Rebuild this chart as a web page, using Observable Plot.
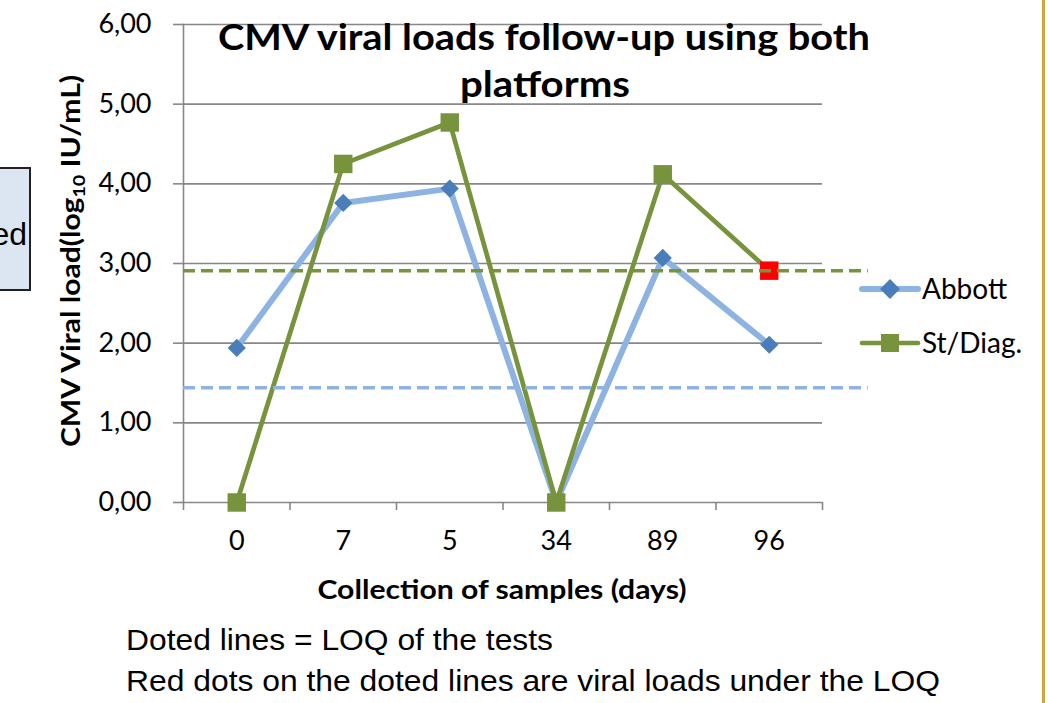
<!DOCTYPE html>
<html>
<head>
<meta charset="utf-8">
<script src="https://cdn.jsdelivr.net/npm/d3@7"></script>
<script src="https://cdn.jsdelivr.net/npm/@observablehq/plot@0.6"></script>
<style>
  html, body { margin: 0; padding: 0; background: white; }
  #wrap { position: relative; width: 1048px; height: 703px; overflow: hidden; }
  #wrap > svg { position: absolute; left: 0; top: 0; }
</style>
</head>
<body>
<div id="wrap"></div>
<script>
// ---- data ----
const categories = ["0", "7", "5", "34", "89", "96"];
const abbott = [1.94, 3.76, 3.94, 0, 3.07, 1.98];
const stDiag = [0, 4.25, 4.77, 0, 4.12, 2.91];
const stDiagUnderLoq = [false, false, false, false, false, true];
const loqSeries = ["Abbott", "St/Diag."];
const loqLevels = [1.44, 2.91];
const yTicks = [0, 1, 2, 3, 4, 5, 6];
const seriesNames = ["Abbott", "St/Diag."];

// ---- styles ----
const blueLine = "#8db3e2", blueMarker = "#4a7ebb", green = "#77933c", grid = "#878787";

const idx = categories.map((_, i) => i);
const abbottData = idx.map(i => ({i, v: abbott[i]}));
const stData = idx.map(i => ({i, v: stDiag[i], under: stDiagUnderLoq[i]}));
const loqData = loqSeries.map((s, k) => ({series: s, value: loqLevels[k]}));
const boundaries = d3.range(categories.length + 1).map(i => i - 0.5);
const loqEnd = categories.length - 0.5 + 0.43;

const chart = Plot.plot({
  width: 1048,
  height: 703,
  marginLeft: 183,
  marginRight: 226,
  marginTop: 24,
  marginBottom: 201,
  style: {fontFamily: "Lato", fontSize: "27px", color: "black", background: "transparent"},
  x: {type: "linear", domain: [-0.5, categories.length - 0.5]},
  y: {domain: [0, 6]},
  marks: [
    Plot.ruleY(yTicks, {stroke: grid, strokeWidth: 1.6}),
    Plot.frame({anchor: "left", stroke: grid, strokeWidth: 1.6}),
    Plot.axisY({ticks: yTicks, tickSize: 10, tickPadding: 22, stroke: grid, strokeWidth: 1.6,
      fill: "black", fontSize: 27, tickFormat: d => d.toFixed(2).replace(".", ","), label: null}),
    Plot.axisX({ticks: boundaries, tickSize: 8, stroke: grid, strokeWidth: 1.6, tickFormat: () => "", label: null}),
    Plot.axisX({ticks: idx, tickSize: 0, tickPadding: 28, fill: "black", fontSize: 27,
      tickFormat: i => categories[i], label: null}),
    Plot.line(abbottData, {x: "i", y: "v", stroke: blueLine, strokeWidth: 6}),
    Plot.dot(abbottData, {x: "i", y: "v", symbol: "diamond2", r: 8.2, fill: blueMarker, stroke: "none"}),
    Plot.line(stData, {x: "i", y: "v", stroke: green, strokeWidth: 4.7}),
    Plot.dot(stData, {x: "i", y: "v", symbol: "square", r: 10.4, fill: d => d.under ? "#ff0000" : green, stroke: "none"}),
    Plot.ruleY(loqData, {y: "value", x1: -0.5, x2: loqEnd,
      stroke: d => d.series === "Abbott" ? blueLine : green, strokeWidth: 3.5, strokeDasharray: "12,6"})
  ]
});
document.getElementById("wrap").appendChild(chart);

// ---- overlay: titles, labels, legend, caption ----
const ns = "http://www.w3.org/2000/svg";
const ov = d3.create("svg").attr("width", 1048).attr("height", 703)
  .attr("xmlns", ns).style("pointer-events", "none");

// left partial box (cut by the picture's edge, as in the reference)
ov.append("rect").attr("x", -3).attr("y", 168).attr("width", 33).attr("height", 122)
  .attr("fill", "#dce6f2").attr("stroke", "#222").attr("stroke-width", 2);
ov.append("text").attr("x", 27).attr("y", 245).attr("text-anchor", "end")
  .attr("font-family", "Liberation Sans").attr("font-size", 32).text("ed");

// gold line on right
ov.append("rect").attr("x", 1042).attr("y", 0).attr("width", 3).attr("height", 703).attr("fill", "#d6a33f");

// title
const t1 = ov.append("text").attr("font-family", "Lato").attr("font-weight", 700).attr("font-size", 36)
  .attr("text-anchor", "middle");
t1.append("tspan").attr("x", 544).attr("y", 50).attr("textLength", 652).attr("lengthAdjust", "spacingAndGlyphs")
  .text("CMV viral loads follow-up using both");
t1.append("tspan").attr("x", 545).attr("y", 97).attr("textLength", 170).attr("lengthAdjust", "spacingAndGlyphs")
  .text("platforms");

// y label
const yl = ov.append("text").attr("transform", "translate(80,261) rotate(-90)")
  .attr("font-family", "Lato").attr("font-weight", 700).attr("font-size", 26)
  .attr("text-anchor", "middle").attr("textLength", 372).attr("lengthAdjust", "spacingAndGlyphs");
yl.append("tspan").text("CMV Viral load(log");
yl.append("tspan").attr("font-size", 17).attr("dy", 5).text("10");
yl.append("tspan").attr("dy", -5).text(" IU/mL)");

// x label
ov.append("text").attr("x", 502).attr("y", 599).attr("text-anchor", "middle")
  .attr("font-family", "Lato").attr("font-weight", 700).attr("font-size", 27)
  .attr("textLength", 369).attr("lengthAdjust", "spacingAndGlyphs")
  .text("Collection of samples (days)");

// legend
const legY = [289, 343];
seriesNames.forEach((name, k) => {
  const g = ov.append("g");
  g.append("line").attr("x1", 862).attr("x2", 918).attr("y1", legY[k]).attr("y2", legY[k])
    .attr("stroke", k === 0 ? blueLine : green).attr("stroke-width", k === 0 ? 6 : 4.7)
    .attr("stroke-linecap", "round");
  if (k === 0) {
    g.append("rect").attr("x", -7).attr("y", -7).attr("width", 14).attr("height", 14)
      .attr("fill", blueMarker).attr("transform", `translate(890,${legY[k]}) rotate(45)`);
  } else {
    g.append("rect").attr("x", 881).attr("y", legY[k] - 9).attr("width", 18).attr("height", 18).attr("fill", green);
  }
  g.append("text").attr("x", 922).attr("y", legY[k] + 9.5).attr("font-family", "Lato").attr("font-size", 28)
    .text(name);
});

// caption
ov.append("text").attr("x", 126).attr("y", 650).attr("font-family", "Liberation Sans").attr("font-size", 29)
  .attr("textLength", 427).attr("lengthAdjust", "spacingAndGlyphs").text("Doted lines = LOQ of the tests");
ov.append("text").attr("x", 126).attr("y", 691).attr("font-family", "Liberation Sans").attr("font-size", 29)
  .attr("textLength", 814).attr("lengthAdjust", "spacingAndGlyphs").text("Red dots on the doted lines are viral loads under the LOQ");

document.getElementById("wrap").appendChild(ov.node());
</script>
</body>
</html>
